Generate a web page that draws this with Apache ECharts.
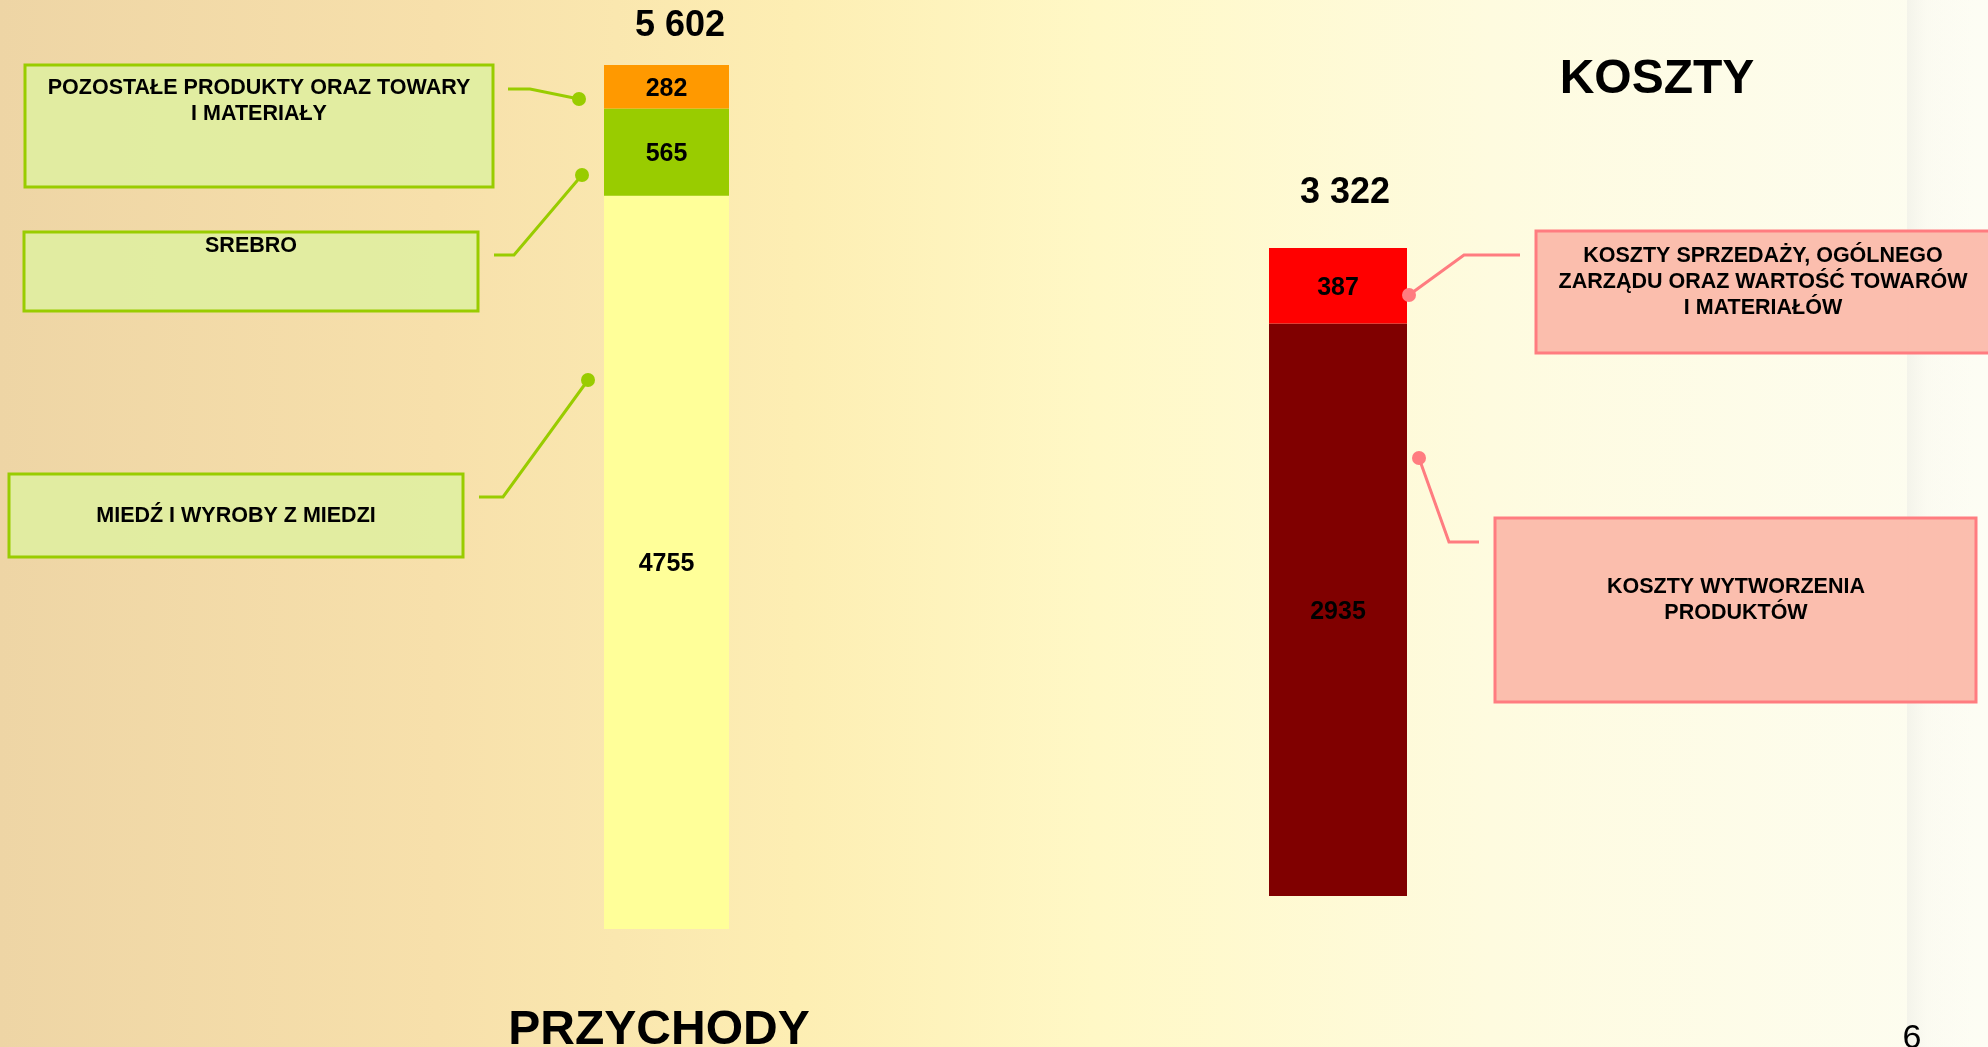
<!DOCTYPE html>
<html>
<head>
<meta charset="utf-8">
<script src="https://cdn.jsdelivr.net/npm/echarts@6/dist/echarts.min.js"></script>
<style>
html, body { margin: 0; padding: 0; }
#main { width: 1988px; height: 1047px; }
</style>
</head>
<body>
<div id="main"></div>
<script>
// przychody - segments from bottom to top
const revenueNames = ['MIEDŹ I WYROBY Z MIEDZI', 'SREBRO', 'POZOSTAŁE PRODUKTY ORAZ TOWARY I MATERIAŁY'];
const revenueValues = [4755, 565, 282];
const revenueColors = ['#ffff99', '#99cc00', '#ff9900'];
// koszty - segments from bottom to top
const costNames = ['KOSZTY WYTWORZENIA PRODUKTÓW', 'KOSZTY SPRZEDAŻY, OGÓLNEGO ZARZĄDU ORAZ WARTOŚĆ TOWARÓW I MATERIAŁÓW'];
const costValues = [2935, 387];
const costColors = ['#800000', '#ff0000'];
// wrapped texts for the callout boxes
const revenueBoxText = ['MIEDŹ I WYROBY Z MIEDZI', 'SREBRO', 'POZOSTAŁE PRODUKTY ORAZ TOWARY\nI MATERIAŁY'];
const costBoxText = ['KOSZTY WYTWORZENIA\nPRODUKTÓW', 'KOSZTY SPRZEDAŻY, OGÓLNEGO\nZARZĄDU ORAZ WARTOŚĆ TOWARÓW\nI MATERIAŁÓW'];

const FONT = 'Liberation Sans, Arial, sans-serif';
const sum = arr => arr.reduce((a, b) => a + b, 0);
const fmt = n => String(n).replace(/\B(?=(\d{3})+(?!\d))/g, ' ');

let chart = echarts.init(document.getElementById('main'));

const barLabel = {
  show: true,
  position: 'inside',
  offset: [0, 2],
  color: '#000',
  fontFamily: FONT,
  fontWeight: 'bold',
  fontSize: 25
};

let series = [];
revenueValues.forEach((v, i) => {
  series.push({
    name: revenueNames[i],
    type: 'bar',
    stack: 'przychody',
    xAxisIndex: 0,
    yAxisIndex: 0,
    barWidth: '100%',
    itemStyle: { color: revenueColors[i] },
    label: barLabel,
    data: [v]
  });
});
costValues.forEach((v, i) => {
  series.push({
    name: costNames[i],
    type: 'bar',
    stack: 'koszty',
    xAxisIndex: 1,
    yAxisIndex: 1,
    barWidth: '100%',
    itemStyle: { color: costColors[i] },
    label: barLabel,
    data: [v]
  });
});

// callout boxes, leader lines, dots
function box(x, y, w, h, fill, stroke) {
  return { type: 'rect', z: 5, shape: { x: x, y: y, width: w, height: h },
    style: { fill: fill, stroke: stroke, lineWidth: 3 } };
}
function txt(x, y, text, size, weight, valign) {
  return { type: 'text', z: 6, x: x, y: y,
    style: { text: text, fill: '#000', font: weight + ' ' + size + 'px ' + FONT,
      textAlign: 'center', textVerticalAlign: valign || 'middle', lineHeight: 26 } };
}
function leader(points, color) {
  return { type: 'polyline', z: 7, shape: { points: points },
    style: { stroke: color, lineWidth: 3, fill: null } };
}
function dot(x, y, color) {
  return { type: 'circle', z: 8, shape: { cx: x, cy: y, r: 7 }, style: { fill: color } };
}

const GREEN = '#99cc00', GREENFILL = 'rgba(222,240,160,0.85)';
const PINK = '#ff7c80', PINKFILL = 'rgba(251,184,168,0.92)';

let graphics = [
  // right slide edge shading
  { type: 'rect', z: 0, shape: { x: 1907, y: 0, width: 81, height: 1047 },
    style: { fill: new echarts.graphic.LinearGradient(0, 0, 1, 0, [
      { offset: 0, color: 'rgba(225,225,225,0.35)' },
      { offset: 0.25, color: 'rgba(245,245,245,0.25)' },
      { offset: 1, color: 'rgba(255,255,255,0.15)' }]) } },

  // revenue callouts
  box(25, 65, 468, 122, GREENFILL, GREEN),
  txt(259, 75, revenueBoxText[2], 21.5, 'bold', 'top'),
  box(24, 232, 454, 79, GREENFILL, GREEN),
  txt(251, 246, revenueBoxText[1], 21.5, 'bold'),
  box(9, 474, 454, 83, GREENFILL, GREEN),
  txt(236, 516, revenueBoxText[0], 21.5, 'bold'),
  leader([[508, 89], [530, 89], [579, 99]], GREEN),
  dot(579, 99, GREEN),
  leader([[494, 255], [514, 255], [582, 175]], GREEN),
  dot(582, 175, GREEN),
  leader([[479, 497], [503, 497], [588, 380]], GREEN),
  dot(588, 380, GREEN),

  // cost callouts
  box(1536, 231, 470, 122, PINKFILL, PINK),
  txt(1763, 243, costBoxText[1], 21.5, 'bold', 'top'),
  box(1495, 518, 481, 184, PINKFILL, PINK),
  txt(1736, 574, costBoxText[0], 21.5, 'bold', 'top'),
  leader([[1520, 255], [1464, 255], [1409, 295]], PINK),
  dot(1409, 295, PINK),
  leader([[1479, 542], [1449, 542], [1419, 458]], PINK),
  dot(1419, 458, PINK),

  // totals and titles
  txt(680, 26, fmt(sum(revenueValues)), 36, 'bold'),
  txt(1345, 193, fmt(sum(costValues)), 36, 'bold'),
  txt(1657, 80, 'KOSZTY', 48, 'bold'),
  txt(659, 1031, 'PRZYCHODY', 48, 'bold'),
  txt(1912, 1039, '6', 34, 'normal')
];

chart.setOption({
  backgroundColor: new echarts.graphic.LinearGradient(0, 0, 1, 0, [
    { offset: 0, color: '#eed5a5' },
    { offset: 0.22, color: '#f7e0ab' },
    { offset: 0.4, color: '#fdeeb3' },
    { offset: 0.55, color: '#fff8c6' },
    { offset: 0.75, color: '#fefbdf' },
    { offset: 1, color: '#fdfdf2' }
  ]),
  animation: false,
  grid: [
    { left: 604, top: 65, width: 125, height: 864 },
    { left: 1269, top: 248, width: 138, height: 648 }
  ],
  xAxis: [
    { type: 'category', gridIndex: 0, data: ['PRZYCHODY'], show: false },
    { type: 'category', gridIndex: 1, data: ['KOSZTY'], show: false }
  ],
  yAxis: [
    { type: 'value', gridIndex: 0, min: 0, max: sum(revenueValues), show: false },
    { type: 'value', gridIndex: 1, min: 0, max: sum(costValues), show: false }
  ],
  series: series,
  graphic: graphics
});
</script>
</body>
</html>
